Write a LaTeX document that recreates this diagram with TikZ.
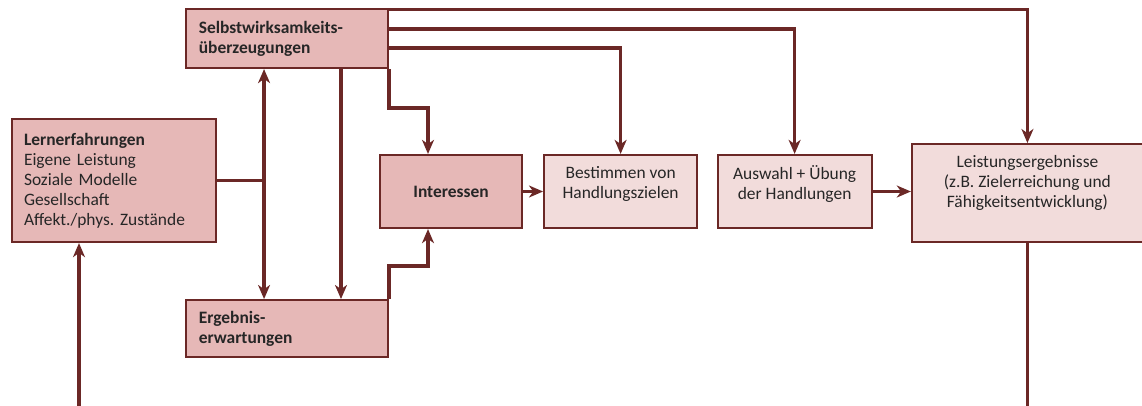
\documentclass[tikz,border=0pt]{standalone}
\usepackage{fontspec}
\setmainfont{Carlito}
\usepackage{xcolor}
\usetikzlibrary{positioning, arrows.meta, calc}

\definecolor{boxdark}{HTML}{E6B8B7}
\definecolor{boxlight}{HTML}{F2DCDB}
\definecolor{linered}{HTML}{6B2826}

\begin{document}
\frenchspacing
\begin{tikzpicture}[
    node distance=0.5cm and 0.5cm,
    box/.style={rectangle, draw=linered, line width=1.5pt, fill=boxdark, font=\fontsize{12.4}{14.3}\selectfont, text=black!85},
    leftbox/.style={box, align=left, inner xsep=0.32cm},
    centerbox/.style={box, align=center, minimum height=1.825cm},
    lightbox/.style={centerbox, fill=boxlight, text depth=0.47cm},
    arrow/.style={-{Stealth[length=10pt, width=8.5pt, inset=3pt]}, line width=2.5pt, draw=linered},
    link/.style={line width=2.5pt, draw=linered},
]
\useasboundingbox (0,0) rectangle (28.55,-10.125);

% === SOURCES ===
\node[leftbox, text width=4.41cm, minimum height=1.475cm] (sw) at (7.175,-0.9625) {\textbf{Selbstwirksamkeits-}\\\textbf{überzeugungen}};
\node[leftbox, text width=4.5cm, minimum height=3.075cm, inner xsep=0.3cm] (lern) at (2.85,-4.5125) {\textbf{Lernerfahrungen}\\Eigene Leistung\\Soziale Modelle\\Gesellschaft\\Affekt./phys. Zustände};
\node[leftbox, text width=4.41cm, minimum height=1.425cm, below=5.75cm of sw] (erg) {\textbf{Ergebnis-}\\\textbf{erwartungen}};

% === MIDDLE ROW ===
\node[centerbox, minimum width=3.55cm] (int) at (11.275,-4.7875) {\textbf{Interessen}};
\node[lightbox, minimum width=3.825cm, right=0.5cm of int] (best) {Bestimmen von\\Handlungszielen};
\node[lightbox, minimum width=3.85cm, right=0.46cm of best] (ausw) {Auswahl + Übung\\der Handlungen};
\node[lightbox, minimum width=5.775cm, minimum height=2.45cm, text depth=0.57cm, right=0.955cm of ausw, yshift=-0.04cm] (leist) {Leistungsergebnisse\\(z.B. Zielerreichung und\\Fähigkeitsentwicklung)};

% === LOOSE ENDS ===
\coordinate (split) at ($(lern.east)+(1.175,0)$);
\coordinate (outR) at (leist.south |- 0,-10.3);
\coordinate (outL) at (1.975,-10.3);

% === ARROWS ===
% from Selbstwirksamkeit
\draw[arrow] ([yshift=-1pt]sw.north east) -| (leist.north);
\draw[arrow] ([yshift=0.24cm]sw.east) -| (ausw.north);
\draw[arrow] ([yshift=-0.24cm]sw.east) -| (best.north);
\draw[arrow] (sw.south east) -- ++(0,-0.975) -| ([xshift=-0.575cm]int.north);
\draw[arrow] ([xshift=1.35cm]sw.south) -- ([xshift=1.35cm]erg.north);

% from Lernerfahrungen
\draw[link] (lern.east) -- (split);
\draw[arrow] (split) -- (split |- sw.south);
\draw[arrow] (split) -- (split |- erg.north);

% from Ergebniserwartungen
\draw[arrow] (erg.north east) -- ++(0,0.825) -| ([xshift=-0.575cm]int.south);

% along the row
\draw[arrow] (int) -- (best);
\draw[arrow] (ausw.east) -- (ausw.east -| leist.west);

% feedback
\draw[link] (leist.south) -- (outR);
\draw[arrow] (outL) -- (outL |- lern.south);

\end{tikzpicture}
\end{document}
